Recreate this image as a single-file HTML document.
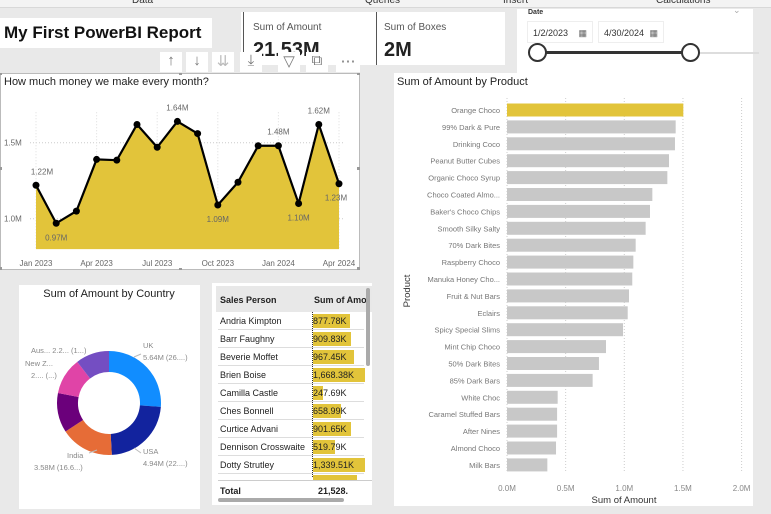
<!DOCTYPE html>
<html><head><meta charset="utf-8"><style>
*{box-sizing:border-box;margin:0;padding:0}
body{width:771px;height:509px;background:#e9e9e9;font-family:"Liberation Sans",sans-serif;position:relative;overflow:hidden}
.abs{position:absolute}
.white{background:#fff}
</style></head><body>
<div class="abs" style="left:0;top:0;width:771px;height:8px;background:#f3f3f3;border-bottom:1px solid #d8d8d8;font-size:10px;color:#333;overflow:hidden">
 <span class="abs" style="left:132px;top:-5px">Data</span>
 <span class="abs" style="left:365px;top:-5px">Queries</span>
 <span class="abs" style="left:503px;top:-5px">Insert</span>
 <span class="abs" style="left:656px;top:-5px">Calculations</span>
</div>
<div class="abs white" style="left:0;top:18px;width:212px;height:30px;font-weight:bold;font-size:17px;padding:5px 0 0 4px;color:#111">My First PowerBI Report</div>
<div class="abs white" style="left:241px;top:12px;width:264px;height:53px;overflow:hidden">
 <div class="abs" style="left:2px;top:0;width:1px;height:53px;background:#555"></div>
 <div class="abs" style="left:135px;top:0;width:1px;height:53px;background:#555"></div>
 <div class="abs" style="left:12px;top:10px;font-size:10px;color:#555">Sum of Amount</div>
 <div class="abs" style="left:12px;top:27px;font-size:20px;font-weight:bold;color:#222">21.53M</div>
 <div class="abs" style="left:143px;top:10px;font-size:10px;color:#555">Sum of Boxes</div>
 <div class="abs" style="left:143px;top:27px;font-size:20px;font-weight:bold;color:#222">2M</div>
</div>
<div class="abs" style="left:160px;top:52px;width:200px;height:20px;font-size:15px;color:#777">
 <span class="abs white" style="left:0;width:22px;height:20px;text-align:center">↑</span>
 <span class="abs white" style="left:26px;width:22px;height:20px;text-align:center">↓</span>
 <span class="abs white" style="left:52px;width:22px;height:20px;text-align:center;color:#bbb">⇊</span>
 <span class="abs white" style="left:80px;width:22px;height:20px;text-align:center">⤓</span>
 <span class="abs white" style="left:118px;width:22px;height:20px;text-align:center">▽</span>
 <span class="abs white" style="left:146px;width:22px;height:20px;text-align:center">⧉</span>
 <span class="abs white" style="left:176px;width:24px;height:20px;text-align:center">⋯</span>
</div>
<div class="abs white" style="left:517px;top:9px;width:236px;height:64px">
 <div class="abs" style="left:11px;top:0px;font-size:7px;color:#333;font-weight:bold">Date</div>
 <div class="abs" style="left:216px;top:-4px;font-size:9px;color:#aaa">⌄</div>
 <div class="abs" style="left:10px;top:12px;width:66px;height:22px;border:1px solid #eee;font-size:9px;padding:6px 5px;color:#333">1/2/2023 <span style="float:right;color:#666">▦</span></div>
 <div class="abs" style="left:81px;top:12px;width:66px;height:22px;border:1px solid #eee;font-size:9px;padding:6px 5px;color:#333">4/30/2024 <span style="float:right;color:#666">▦</span></div>
 <div class="abs" style="left:20px;top:43px;width:222px;height:2px;background:#ddd"></div>
 <div class="abs" style="left:20px;top:42px;width:153px;height:3px;background:#333"></div>
 <div class="abs" style="left:11px;top:34px;width:19px;height:19px;border-radius:50%;border:2px solid #333;background:#fff"></div>
 <div class="abs" style="left:164px;top:34px;width:19px;height:19px;border-radius:50%;border:2px solid #333;background:#fff"></div>
</div>

<div class="abs white" style="left:0;top:73px;width:360px;height:197px;border:1px solid #bbb">
<svg width="360" height="197" class="abs" style="left:-1px;top:-1px" id="lineSvg"></svg>
</div>

<div class="abs white" style="left:19px;top:285px;width:181px;height:224px">
<svg width="181" height="224" id="donutSvg"></svg>
</div>

<div class="abs white" style="left:212px;top:283px;width:160px;height:222px;overflow:hidden">
<div id="tbl"></div>
</div>

<div class="abs white" style="left:394px;top:73px;width:359px;height:433px">
<svg width="359" height="433" id="barSvg"></svg>
</div>

<script>
const NS="http://www.w3.org/2000/svg";
function mk(p,t,a,txt){const e=document.createElementNS(NS,t);for(const k in a)e.setAttribute(k,a[k]);if(txt!=null)e.textContent=txt;p.appendChild(e);return e;}

// ---- Line chart data ----
const months=["Jan 2023","Feb 2023","Mar 2023","Apr 2023","May 2023","Jun 2023","Jul 2023","Aug 2023","Sep 2023","Oct 2023","Nov 2023","Dec 2023","Jan 2024","Feb 2024","Mar 2024","Apr 2024"];
const monthlyAmount=[1.22,0.97,1.05,1.39,1.385,1.62,1.47,1.64,1.56,1.09,1.24,1.48,1.48,1.10,1.62,1.23];
const lineTicksX=["Jan 2023","Apr 2023","Jul 2023","Oct 2023","Jan 2024","Apr 2024"];
const lineTicksY=[1.0,1.5];
const lineLabels={0:"1.22M",1:"0.97M",7:"1.64M",9:"1.09M",12:"1.48M",13:"1.10M",14:"1.62M",15:"1.23M"};
const lineLabelAbove={0:true,1:false,7:true,9:false,12:true,13:false,14:true,15:false};

(function(){
 const s=document.getElementById('lineSvg');
 const x=i=>36+i*(339-36)/(months.length-1);
 const y=v=>218.7-73-(v-1.0)*152;
 const base=y(0.8);
 const t=mk(s,'text',{x:4,y:12,'font-size':11,fill:'#222'},"How much money we make every month?");
 
 lineTicksY.forEach(v=>{mk(s,'line',{x1:30,x2:345,y1:y(v),y2:y(v),stroke:'#ccc','stroke-dasharray':'1,2'});
  const l=mk(s,'text',{x:4,y:y(v)+3,'font-size':8,fill:'#666'},v.toFixed(1)+"M");});
 lineTicksX.forEach(m=>{const i=months.indexOf(m);mk(s,'line',{x1:x(i),x2:x(i),y1:y(1.7),y2:base,stroke:'#ddd','stroke-dasharray':'1,2'});
  const l=mk(s,'text',{x:x(i),y:base+17,'font-size':8,fill:'#666','text-anchor':'middle'},m);});
 let d="M"+x(0)+","+base;monthlyAmount.forEach((v,i)=>d+=" L"+x(i)+","+y(v));d+=" L"+x(monthlyAmount.length-1)+","+base+"Z";
 const a=mk(s,'path',{d:d,fill:'#e2c43a'});
 const pl=mk(s,'polyline',{points:monthlyAmount.map((v,i)=>x(i)+","+y(v)).join(" "),fill:'none',stroke:'#000','stroke-width':2.2});
 
 monthlyAmount.forEach((v,i)=>{const c=mk(s,'circle',{cx:x(i),cy:y(v),r:3.5,fill:'#000'});
  
  if(lineLabels[i]){const l=mk(s,'text',{x:x(i)+(i==15?-3:i==0?6:0),y:lineLabelAbove[i]?y(v)-11:y(v)+17,'font-size':8,fill:'#666','text-anchor':'middle'},lineLabels[i]);}});
 [[0,95],[358,95],[180,0],[180,196],[0,0],[358,0],[0,195],[358,195]].forEach(p=>mk(s,'rect',{x:p[0]-1,y:p[1]-1,width:3,height:3,fill:'#999'}));
})();

// ---- Donut ----
const countries=["UK","USA","India","Canada","New Zealand","Australia"];
const countryAmount=[5.64,4.94,3.58,2.65,2.47,2.25];
const countryColors=["#118dff","#12239e","#e66c37","#6b007b","#e044a7","#744ec2"];
(function(){
 const s=document.getElementById('donutSvg');
 const t=mk(s,'text',{x:90,y:12,'font-size':11,fill:'#222','text-anchor':'middle'},"Sum of Amount by Country");
 
 const cx=90,cy=118,R=52,r=31;const tot=countryAmount.reduce((a,b)=>a+b,0);let a0=-Math.PI/2;
 countryAmount.forEach((v,i)=>{const a1=a0+v/tot*2*Math.PI;const lg=(a1-a0)>Math.PI?1:0;
  const p=(A,rr)=>(cx+rr*Math.cos(A))+","+(cy+rr*Math.sin(A));
  const e=mk(s,'path',{d:"M"+p(a0,R)+" A"+R+","+R+" 0 "+lg+" 1 "+p(a1,R)+" L"+p(a1,r)+" A"+r+","+r+" 0 "+lg+" 0 "+p(a0,r)+"Z",fill:countryColors[i]});
  a0=a1;});
 const labs=[[124,63,"UK"],[124,75,"5.64M (26....)"],[124,169,"USA"],[124,181,"4.94M (22....)"],[48,173,"India"],[15,185,"3.58M (16.6...)"],[12,68,"Aus... 2.2... (1...)"],[6,81,"New Z..."],[12,93,"2.... (...)"]];
 labs.forEach(l=>{const e=mk(s,'text',{x:l[0],y:l[1],'font-size':7.5,fill:'#888'},l[2]);});
 [[115,72,122,69],[115,163,122,168],[70,168,78,165]].forEach(q=>mk(s,'polyline',{points:q[0]+","+q[1]+" "+q[2]+","+q[3],stroke:'#bbb',fill:'none'}));
})();

// ---- Table ----
const salesPeople=["Andria Kimpton","Barr Faughny","Beverie Moffet","Brien Boise","Camilla Castle","Ches Bonnell","Curtice Advani","Dennison Crosswaite","Dotty Strutley"];
const salesAmount=[877.78,909.83,967.45,1668.38,247.69,658.99,901.65,519.79,1339.51];
(function(){
 const c=document.getElementById('tbl');
 let h='<div style="position:absolute;left:4px;top:3px;width:156px;height:26px;background:#e8e8e8;font-size:9px;font-weight:bold;color:#222"><span style="position:absolute;left:4px;top:9px">Sales Person</span><span style="position:absolute;left:98px;top:9px;white-space:nowrap">Sum of Amo</span></div>';
 c.innerHTML=h;
 salesPeople.forEach((n,i)=>{const row=document.createElement('div');
  
  
  const top=29+i*18;const w=Math.min(salesAmount[i]*0.042,52);
  row.style.cssText="position:absolute;left:6px;top:"+top+"px;width:146px;height:18px;border-bottom:1px solid #ddd;font-size:9px;color:#222";
  const val=salesAmount[i].toLocaleString('en-US',{minimumFractionDigits:2,maximumFractionDigits:2})+"K";
  row.innerHTML='<span style="position:absolute;left:2px;top:4px">'+n+'</span><span style="position:absolute;left:95px;top:2px;width:'+w+'px;height:14px;background:#e2c43a"></span><span style="position:absolute;left:95px;top:4px">'+val+'</span>';
  c.appendChild(row);});
 const dl=document.createElement('div');dl.style.cssText="position:absolute;left:100px;top:29px;height:165px;border-left:1px dotted #333";c.appendChild(dl);
 const last=document.createElement('div');last.style.cssText="position:absolute;left:101px;top:192px;width:44px;height:8px;background:#e2c43a";c.appendChild(last);
 const tot=document.createElement('div');
 
 
 tot.style.cssText="position:absolute;left:6px;top:197px;width:154px;height:18px;background:#fff;font-size:9px;font-weight:bold;color:#222;border-top:1px solid #ccc";
 tot.innerHTML='<span style="position:absolute;left:2px;top:5px">Total</span><span style="position:absolute;left:100px;top:5px">21,528.</span>';c.appendChild(tot);
 const sb=document.createElement('div');sb.style.cssText="position:absolute;left:6px;top:215px;width:126px;height:4px;border-radius:2px;background:#aaa";c.appendChild(sb);
 const vb=document.createElement('div');vb.style.cssText="position:absolute;left:154px;top:5px;width:4px;height:78px;border-radius:2px;background:#aaa";c.appendChild(vb);
})();

// ---- Bar chart ----
const products=["Orange Choco","99% Dark & Pure","Drinking Coco","Peanut Butter Cubes","Organic Choco Syrup","Choco Coated Almo...","Baker's Choco Chips","Smooth Silky Salty","70% Dark Bites","Raspberry Choco","Manuka Honey Cho...","Fruit & Nut Bars","Eclairs","Spicy Special Slims","Mint Chip Choco","50% Dark Bites","85% Dark Bars","White Choc","Caramel Stuffed Bars","After Nines","Almond Choco","Milk Bars"];
const productAmount=[1.503,1.438,1.432,1.381,1.367,1.239,1.219,1.182,1.097,1.077,1.068,1.040,1.029,0.989,0.844,0.784,0.730,0.432,0.427,0.427,0.418,0.344];
const barTicks=[0,0.5,1.0,1.5,2.0];
(function(){
 const s=document.getElementById('barSvg');
 const x=v=>113+v*117.3;const y=i=>37+i*16.9;
 const t=mk(s,'text',{x:3,y:12,'font-size':11,fill:'#222'},"Sum of Amount by Product");
 barTicks.forEach(v=>{mk(s,'line',{x1:x(v),x2:x(v),y1:25,y2:400,stroke:'#ccc','stroke-dasharray':'1,2'});
  const l=mk(s,'text',{x:x(v),y:418,'font-size':8,fill:'#888','text-anchor':'middle'},v.toFixed(1)+"M");});
 products.forEach((p,i)=>{const b=mk(s,'rect',{x:x(0),y:y(i)-6.5,width:x(productAmount[i])-x(0),height:13,fill:i==0?'#e2c43a':'#c8c8c8'});
  
  const l=mk(s,'text',{x:106,y:y(i)+3,'font-size':7.5,fill:'#777','text-anchor':'end'},p);});
 const xt=mk(s,'text',{x:230,y:430,'font-size':9.5,fill:'#333','text-anchor':'middle'},"Sum of Amount");
 const yt=mk(s,'text',{x:0,y:0,'font-size':9.5,fill:'#333','text-anchor':'middle',transform:'translate(16,218) rotate(-90)'},"Product");
})();
</script>
</body></html>
